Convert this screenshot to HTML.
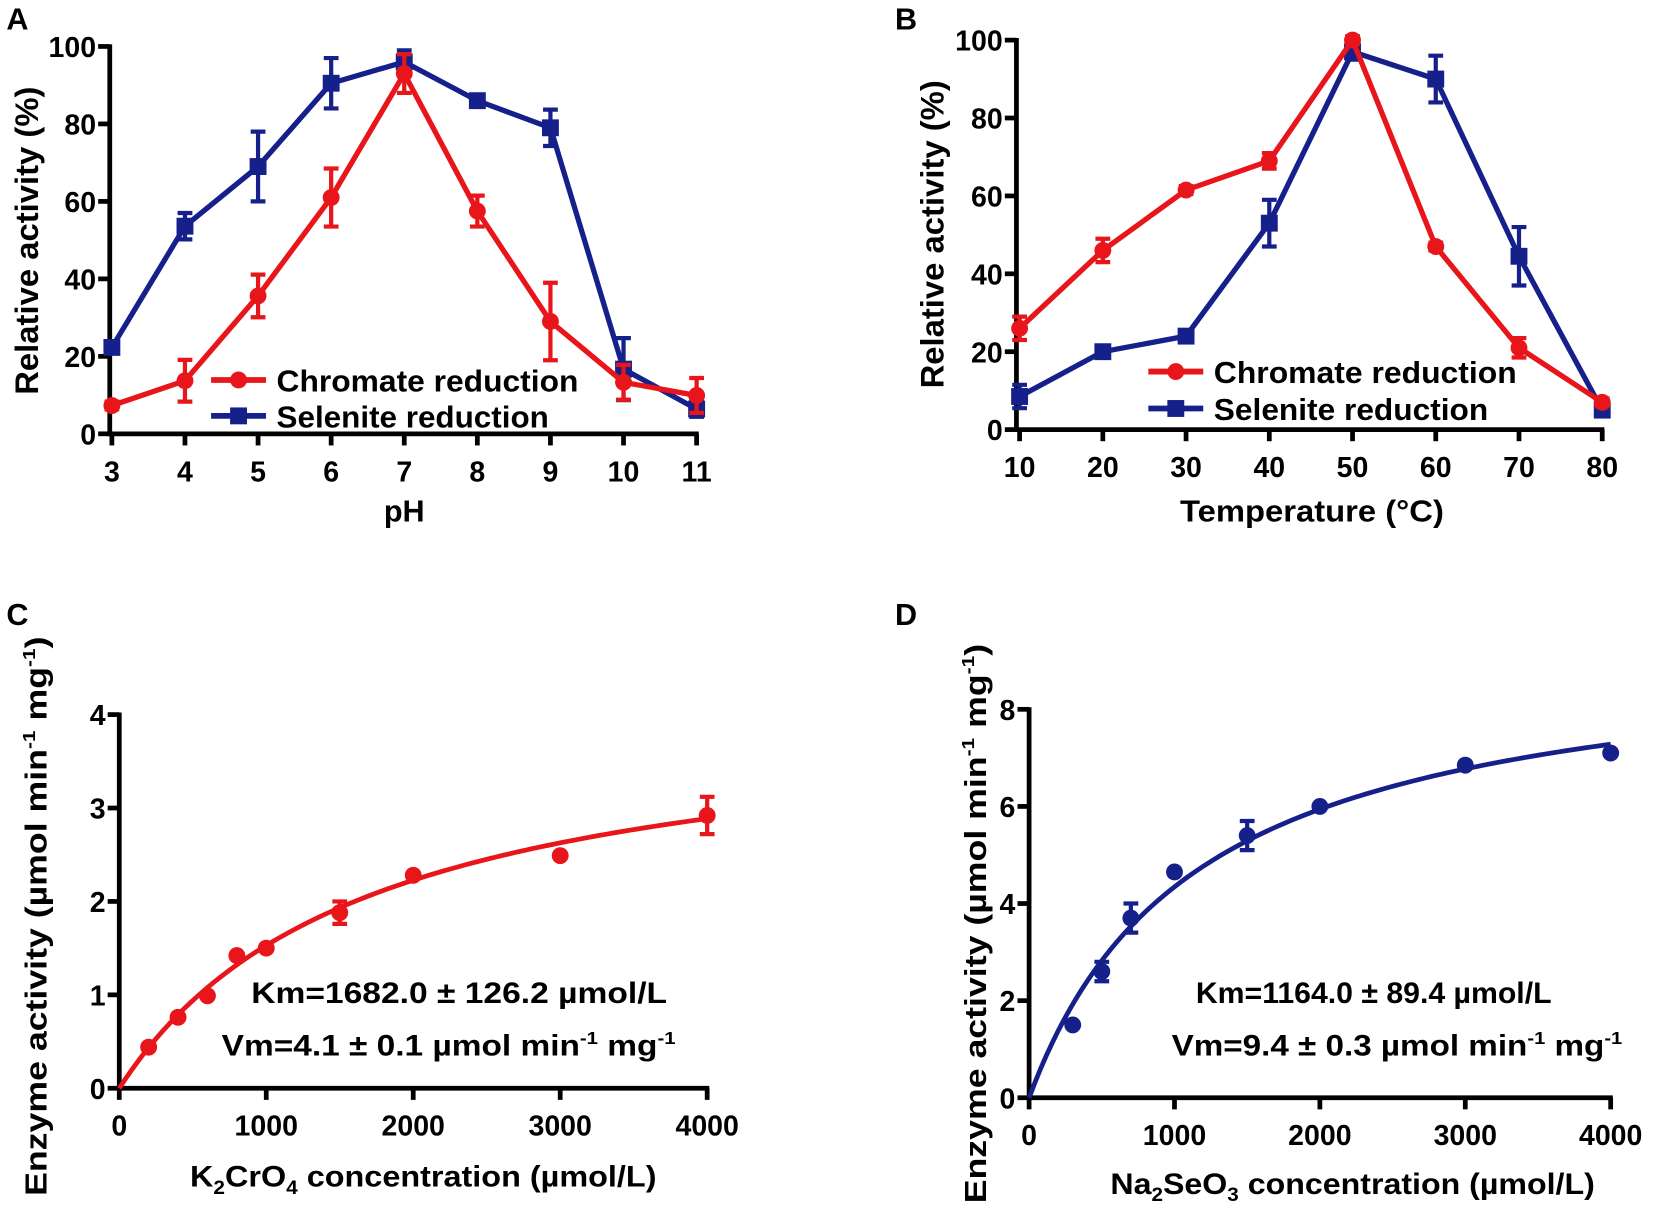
<!DOCTYPE html>
<html><head><meta charset="utf-8">
<style>
html,body{margin:0;padding:0;background:#fff;}
svg{display:block;font-family:"Liberation Sans",Arial,sans-serif;font-weight:bold;}
</style></head>
<body>
<svg id="fig" width="1655" height="1205" viewBox="0 0 1568 1141.6" preserveAspectRatio="none" xmlns="http://www.w3.org/2000/svg"></svg>
<script>
// Panel A data (pH)
const phCats = [3,4,5,6,7,8,9,10,11];
const phChromate = [7.3,13.7,35.6,61,93,57.5,29,13.3,9.9];
const phChromateErr = [1,5.4,5.5,7.5,5,4,10,4.5,4.5];
const phSelenite = [22.3,53.6,69,90.5,96,86,79,16.7,6.4];
const phSeleniteErr = [1,3.4,9,6.5,3,1,4.7,8,2];
const pctTicks = [0,20,40,60,80,100];
// Panel B data (temperature)
const tCats = [10,20,30,40,50,60,70,80];
const tChromate = [26,46,61.5,69,100,47,21,7];
const tChromateErr = [3,3,1,2,1,1,2.5,1];
const tSelenite = [8.5,20,24,53,97,90,44.5,5];
const tSeleniteErr = [3,1,1,6,2,6,7.5,1];
// Panel C data
const cConc = [200,400,600,800,1000,1500,2000,3000,4000];
const cAct = [0.44,0.76,0.99,1.42,1.50,1.88,2.28,2.49,2.92];
const cErr = [0,0,0,0,0,0.12,0,0,0.2];
const cFit = [4.1,1682];
const cYTicks = [0,1,2,3,4];
// Panel D data
const dConc = [300,500,700,1000,1500,2000,3000,4000];
const dAct = [1.5,2.6,3.7,4.65,5.4,6.0,6.85,7.1];
const dErr = [0,0.2,0.3,0,0.3,0,0,0];
const dFit = [9.4,1164];
const dYTicks = [0,2,4,6,8];
const concTicks = [0,1000,2000,3000,4000];

const RED='#e8151b', BLUE='#16208a';
const svg=document.getElementById('fig');
const NS='http://www.w3.org/2000/svg';
function el(tag,attrs,parent,txt){const e=document.createElementNS(NS,tag);for(const k in attrs)e.setAttribute(k,attrs[k]);if(txt!==undefined)e.textContent=txt;(parent||svg).appendChild(e);return e;}
function scale(d0,d1,r0,r1){return v=>r0+(v-d0)/(d1-d0)*(r1-r0);}

function axes(g,xs,ys,xTicks,yTicks,xHi,yHi,axX,axY,fs){
  const ax=el('path',{d:`M${axX},${ys(yHi)-2}V${axY}H${xs(xHi)+2}`,stroke:'#000','stroke-width':4.5,fill:'none'},g);
  
  
  xTicks.forEach(t=>{
    const tk=el('line',{x1:xs(t),x2:xs(t),y1:axY,y2:axY+11,stroke:'#000','stroke-width':4.5},g);
    
    
    const lb=el('text',{x:xs(t),y:axY+45,'text-anchor':'middle','font-size':fs},g,String(t));
    
    
  });
  yTicks.forEach(t=>{
    const tk=el('line',{x1:axX-11,x2:axX,y1:ys(t),y2:ys(t),stroke:'#000','stroke-width':4.5},g);
    
    
    const lb=el('text',{x:axX-13,y:ys(t)+10,'text-anchor':'end','font-size':fs},g,String(t));
    
    
  });
}
function series(g,xs,ys,xv,yv,ev,color,shape,name,line){
  if(line){
    const p=el('polyline',{points:xv.map((x,i)=>xs(x)+','+ys(yv[i])).join(' '),fill:'none',stroke:color,'stroke-width':5,'stroke-linejoin':'round'},g);
    
    
  }
  xv.forEach((x,i)=>{
    const cx=xs(x),cy=ys(yv[i]);
    if(ev[i]>0){
      const y1=ys(yv[i]+ev[i]),y2=ys(yv[i]-ev[i]);
      const e=el('path',{d:`M${cx},${y1}V${y2}M${cx-7},${y1}H${cx+7}M${cx-7},${y2}H${cx+7}`,stroke:color,'stroke-width':4,fill:'none'},g);
      
      
    }
    let m;
    if(shape==='sq') m=el('rect',{x:cx-8,y:cy-8,width:16,height:16,fill:color},g);
    else m=el('circle',{cx:cx,cy:cy,r:8,fill:color},g);
    
    
  });
}
function legend(g,x,y,color,shape,label,len){
  const l=el('line',{x1:x,x2:x+52,y1:y,y2:y,stroke:color,'stroke-width':5.5},g);
  
  
  let m;
  if(shape==='sq') m=el('rect',{x:x+18,y:y-8,width:16,height:16,fill:color},g);
  else m=el('circle',{cx:x+26,cy:y,r:8,fill:color},g);
  
  
  const t=el('text',{x:x+62,y:y+11,'font-size':29,textLength:len,lengthAdjust:'spacingAndGlyphs'},g,label);
  
  
}
function letter(x,y,s){const t=el('text',{x:x,y:y,'font-size':29},svg,s);}
function simpleYTitle(g,x,y,len,label){
  const yt=el('text',{x:0,y:0,transform:`translate(${x},${y}) rotate(-90)`,'text-anchor':'middle','font-size':31,textLength:len,lengthAdjust:'spacingAndGlyphs'},g,label);
  
}

// ---- Panel A ----
{
  const g=el('g',{});
  
  
  const xs=scale(3,11,106,660), ys=scale(0,100,411,44);
  axes(g,xs,ys,phCats,pctTicks,11,100,104,411,27);
  series(g,xs,ys,phCats,phSelenite,phSeleniteErr,BLUE,'sq','selenite-ph',true);
  series(g,xs,ys,phCats,phChromate,phChromateErr,RED,'ci','chromate-ph',true);
  legend(g,200,360,RED,'ci','Chromate reduction',286);
  legend(g,200,394,BLUE,'sq','Selenite reduction',258);
  const xt=el('text',{x:383,y:494,'text-anchor':'middle','font-size':29},g,'pH');
  
  simpleYTitle(g,36,228,292,'Relative activity (%)');
  letter(6,28,'A');
}
// ---- Panel B ----
{
  const g=el('g',{});
  
  
  const xs=scale(10,80,966,1518), ys=scale(0,100,407,38);
  axes(g,xs,ys,tCats,pctTicks,80,100,963,407,27);
  series(g,xs,ys,tCats,tSelenite,tSeleniteErr,BLUE,'sq','selenite-temp',true);
  series(g,xs,ys,tCats,tChromate,tChromateErr,RED,'ci','chromate-temp',true);
  legend(g,1088,352,RED,'ci','Chromate reduction',287);
  legend(g,1088,387,BLUE,'sq','Selenite reduction',260);
  const xt=el('text',{x:1243,y:494,'text-anchor':'middle','font-size':29,textLength:250,lengthAdjust:'spacingAndGlyphs'},g,'Temperature (°C)');
  
  simpleYTitle(g,894,222,292,'Relative activity (%)');
  letter(848,28,'B');
}
function fitCurve(g,xs,ys,fit,color,name){
  const pts=[];for(let x=0;x<=4000;x+=40){pts.push(xs(x)+','+ys(fit[0]*x/(fit[1]+x)));}
  const p=el('polyline',{points:pts.join(' '),fill:'none',stroke:color,'stroke-width':4.5},g);
  
  
}
function annot(g,x1,y1,len1,x2,y2,len2,km,vm){
  const a=el('text',{x:x1,y:y1,'font-size':28,textLength:len1,lengthAdjust:'spacingAndGlyphs'},g,km);
  
  const b=el('text',{x:x2,y:y2,'font-size':28,textLength:len2,lengthAdjust:'spacingAndGlyphs'},g);
  
  el('tspan',{},b,vm+' µmol min');
  el('tspan',{'font-size':17,dy:-11},b,'-1');
  el('tspan',{dy:11},b,' mg');
  el('tspan',{'font-size':17,dy:-11},b,'-1');
}
function ytitle(g,x,y,len){
  const t=el('text',{x:0,y:0,transform:`translate(${x},${y}) rotate(-90)`,'text-anchor':'middle','font-size':29,textLength:len,lengthAdjust:'spacingAndGlyphs'},g);
  
  el('tspan',{},t,'Enzyme activity (µmol min');
  el('tspan',{'font-size':17,dy:-11},t,'-1');
  el('tspan',{dy:11},t,' mg');
  el('tspan',{'font-size':17,dy:-11},t,'-1');
  el('tspan',{dy:11},t,')');
}
// ---- Panel C ----
{
  const g=el('g',{});
  
  
  const xs=scale(0,4000,113,670), ys=scale(0,4,1031,677);
  axes(g,xs,ys,concTicks,cYTicks,4000,4,113,1031,27);
  fitCurve(g,xs,ys,cFit,RED,'chromate-fit-curve');
  series(g,xs,ys,cConc,cAct,cErr,RED,'ci','chromate-kinetic',false);
  annot(g,238,950,394,210,1000,430,'Km=1682.0 ± 126.2 µmol/L','Vm=4.1 ± 0.1');
  const xt=el('text',{x:180,y:1124,'font-size':28,textLength:442,lengthAdjust:'spacingAndGlyphs'},g);
  
  el('tspan',{},xt,'K');el('tspan',{'font-size':18,dy:7},xt,'2');el('tspan',{dy:-7},xt,'CrO');el('tspan',{'font-size':18,dy:7},xt,'4');el('tspan',{dy:-7},xt,' concentration (µmol/L)');
  ytitle(g,44,868,530);
  letter(6,592,'C');
}
// ---- Panel D ----
{
  const g=el('g',{});
  
  
  const xs=scale(0,4000,975,1526), ys=scale(0,8,1040,672);
  axes(g,xs,ys,concTicks,dYTicks,4000,8,975,1040,27);
  fitCurve(g,xs,ys,dFit,BLUE,'selenite-fit-curve');
  series(g,xs,ys,dConc,dAct,dErr,BLUE,'ci','selenite-kinetic',false);
  annot(g,1133,950,337,1110,1000,427,'Km=1164.0 ± 89.4 µmol/L','Vm=9.4 ± 0.3');
  const xt=el('text',{x:1052,y:1131,'font-size':28,textLength:459,lengthAdjust:'spacingAndGlyphs'},g);
  
  el('tspan',{},xt,'Na');el('tspan',{'font-size':18,dy:7},xt,'2');el('tspan',{dy:-7},xt,'SeO');el('tspan',{'font-size':18,dy:7},xt,'3');el('tspan',{dy:-7},xt,' concentration (µmol/L)');
  ytitle(g,934,875,530);
  letter(848,592,'D');
}
</script>
</body></html>
